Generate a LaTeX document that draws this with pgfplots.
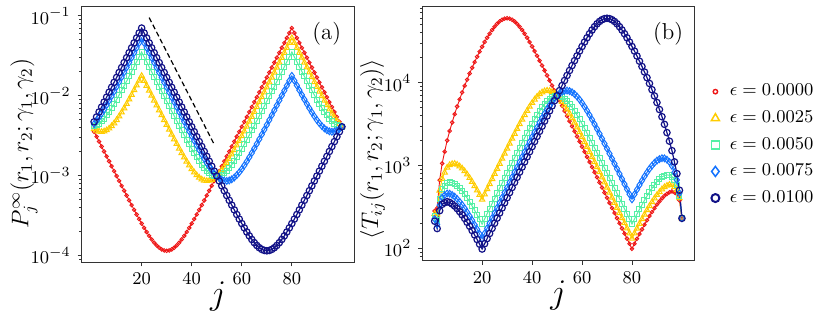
\documentclass[border=0pt]{standalone}
\usepackage{pgfplots}
\usepackage{pgfplotstable}
\pgfplotsset{compat=1.18}

\definecolor{cR}{RGB}{238,22,22}
\definecolor{cY}{RGB}{255,204,0}
\definecolor{cG}{RGB}{85,240,165}
\definecolor{cL}{RGB}{20,115,255}
\definecolor{cB}{RGB}{18,18,135}

% panel (a): stationary distribution, one column per epsilon
\pgfplotstableread{
j R Y G L B
1 3.543e-3 3.834e-3 4.125e-3 4.416e-3 4.707e-3
2 3.074e-3 3.662e-3 4.250e-3 4.838e-3 5.426e-3
3 2.667e-3 3.564e-3 4.461e-3 5.357e-3 6.254e-3
4 2.314e-3 3.538e-3 4.761e-3 5.985e-3 7.208e-3
5 2.008e-3 3.583e-3 5.159e-3 6.734e-3 8.309e-3
6 1.743e-3 3.702e-3 5.660e-3 7.619e-3 9.577e-3
7 1.512e-3 3.894e-3 6.276e-3 8.658e-3 1.104e-2
8 1.313e-3 4.165e-3 7.017e-3 9.868e-3 1.272e-2
9 1.140e-3 4.522e-3 7.905e-3 1.129e-2 1.467e-2
10 9.893e-4 4.970e-3 8.950e-3 1.293e-2 1.691e-2
11 8.592e-4 5.517e-3 1.018e-2 1.483e-2 1.949e-2
12 7.465e-4 6.177e-3 1.161e-2 1.704e-2 2.247e-2
13 6.489e-4 6.962e-3 1.327e-2 1.959e-2 2.590e-2
14 5.644e-4 7.886e-3 1.521e-2 2.253e-2 2.985e-2
15 4.913e-4 8.971e-3 1.745e-2 2.593e-2 3.441e-2
16 4.282e-4 1.024e-2 2.004e-2 2.985e-2 3.966e-2
17 3.737e-4 1.171e-2 2.305e-2 3.438e-2 4.572e-2
18 3.268e-4 1.342e-2 2.651e-2 3.961e-2 5.270e-2
19 2.865e-4 1.540e-2 3.052e-2 4.563e-2 6.075e-2
20 2.520e-4 1.769e-2 3.514e-2 5.258e-2 7.002e-2
21 2.226e-4 1.535e-2 3.049e-2 4.562e-2 6.075e-2
22 1.977e-4 1.332e-2 2.645e-2 3.957e-2 5.270e-2
23 1.767e-4 1.156e-2 2.295e-2 3.433e-2 4.572e-2
24 1.594e-4 1.004e-2 1.991e-2 2.979e-2 3.966e-2
25 1.453e-4 8.712e-3 1.728e-2 2.584e-2 3.441e-2
26 1.341e-4 7.563e-3 1.499e-2 2.242e-2 2.985e-2
27 1.256e-4 6.569e-3 1.301e-2 1.946e-2 2.590e-2
28 1.197e-4 5.707e-3 1.130e-2 1.688e-2 2.247e-2
29 1.162e-4 4.960e-3 9.803e-3 1.465e-2 1.949e-2
30 1.150e-4 4.314e-3 8.513e-3 1.271e-2 1.691e-2
31 1.162e-4 3.755e-3 7.393e-3 1.103e-2 1.467e-2
32 1.197e-4 3.270e-3 6.420e-3 9.570e-3 1.272e-2
33 1.256e-4 2.854e-3 5.583e-3 8.311e-3 1.104e-2
34 1.341e-4 2.495e-3 4.856e-3 7.216e-3 9.577e-3
35 1.453e-4 2.186e-3 4.227e-3 6.268e-3 8.309e-3
36 1.594e-4 1.922e-3 3.684e-3 5.446e-3 7.208e-3
37 1.767e-4 1.696e-3 3.215e-3 4.735e-3 6.254e-3
38 1.977e-4 1.505e-3 2.812e-3 4.119e-3 5.426e-3
39 2.226e-4 1.344e-3 2.465e-3 3.586e-3 4.707e-3
40 2.520e-4 1.210e-3 2.168e-3 3.126e-3 4.084e-3
41 2.865e-4 1.101e-3 1.915e-3 2.729e-3 3.543e-3
42 3.268e-4 1.014e-3 1.700e-3 2.387e-3 3.074e-3
43 3.737e-4 9.470e-4 1.520e-3 2.094e-3 2.667e-3
44 4.282e-4 9.000e-4 1.371e-3 1.843e-3 2.314e-3
45 4.913e-4 8.710e-4 1.250e-3 1.629e-3 2.008e-3
46 5.644e-4 8.590e-4 1.154e-3 1.448e-3 1.743e-3
47 6.489e-4 8.650e-4 1.080e-3 1.296e-3 1.512e-3
48 7.465e-4 8.880e-4 1.030e-3 1.171e-3 1.313e-3
49 8.592e-4 9.290e-4 9.990e-4 1.069e-3 1.140e-3
50 9.893e-4 9.893e-4 9.893e-4 9.893e-4 9.893e-4
51 1.140e-3 1.069e-3 9.990e-4 9.290e-4 8.592e-4
52 1.313e-3 1.171e-3 1.030e-3 8.880e-4 7.465e-4
53 1.512e-3 1.296e-3 1.080e-3 8.650e-4 6.489e-4
54 1.743e-3 1.448e-3 1.154e-3 8.590e-4 5.644e-4
55 2.008e-3 1.629e-3 1.250e-3 8.710e-4 4.913e-4
56 2.314e-3 1.843e-3 1.371e-3 9.000e-4 4.282e-4
57 2.667e-3 2.094e-3 1.520e-3 9.470e-4 3.737e-4
58 3.074e-3 2.387e-3 1.700e-3 1.014e-3 3.268e-4
59 3.543e-3 2.729e-3 1.915e-3 1.101e-3 2.865e-4
60 4.084e-3 3.126e-3 2.168e-3 1.210e-3 2.520e-4
61 4.707e-3 3.586e-3 2.465e-3 1.344e-3 2.226e-4
62 5.426e-3 4.119e-3 2.812e-3 1.505e-3 1.977e-4
63 6.254e-3 4.735e-3 3.215e-3 1.696e-3 1.767e-4
64 7.208e-3 5.446e-3 3.684e-3 1.922e-3 1.594e-4
65 8.309e-3 6.268e-3 4.227e-3 2.186e-3 1.453e-4
66 9.577e-3 7.216e-3 4.856e-3 2.495e-3 1.341e-4
67 1.104e-2 8.311e-3 5.583e-3 2.854e-3 1.256e-4
68 1.272e-2 9.570e-3 6.420e-3 3.270e-3 1.197e-4
69 1.467e-2 1.103e-2 7.393e-3 3.755e-3 1.162e-4
70 1.691e-2 1.271e-2 8.513e-3 4.314e-3 1.150e-4
71 1.949e-2 1.465e-2 9.803e-3 4.960e-3 1.162e-4
72 2.247e-2 1.688e-2 1.130e-2 5.707e-3 1.197e-4
73 2.590e-2 1.946e-2 1.301e-2 6.569e-3 1.256e-4
74 2.985e-2 2.242e-2 1.499e-2 7.563e-3 1.341e-4
75 3.441e-2 2.584e-2 1.728e-2 8.712e-3 1.453e-4
76 3.966e-2 2.979e-2 1.991e-2 1.004e-2 1.594e-4
77 4.572e-2 3.433e-2 2.295e-2 1.156e-2 1.767e-4
78 5.270e-2 3.957e-2 2.645e-2 1.332e-2 1.977e-4
79 6.075e-2 4.562e-2 3.049e-2 1.535e-2 2.226e-4
80 7.002e-2 5.258e-2 3.514e-2 1.769e-2 2.520e-4
81 6.075e-2 4.563e-2 3.052e-2 1.540e-2 2.865e-4
82 5.270e-2 3.961e-2 2.651e-2 1.342e-2 3.268e-4
83 4.572e-2 3.438e-2 2.305e-2 1.171e-2 3.737e-4
84 3.966e-2 2.985e-2 2.004e-2 1.024e-2 4.282e-4
85 3.441e-2 2.593e-2 1.745e-2 8.971e-3 4.913e-4
86 2.985e-2 2.253e-2 1.521e-2 7.886e-3 5.644e-4
87 2.590e-2 1.959e-2 1.327e-2 6.962e-3 6.489e-4
88 2.247e-2 1.704e-2 1.161e-2 6.177e-3 7.465e-4
89 1.949e-2 1.483e-2 1.018e-2 5.517e-3 8.592e-4
90 1.691e-2 1.293e-2 8.950e-3 4.970e-3 9.893e-4
91 1.467e-2 1.129e-2 7.905e-3 4.522e-3 1.140e-3
92 1.272e-2 9.868e-3 7.017e-3 4.165e-3 1.313e-3
93 1.104e-2 8.658e-3 6.276e-3 3.894e-3 1.512e-3
94 9.577e-3 7.619e-3 5.660e-3 3.702e-3 1.743e-3
95 8.309e-3 6.734e-3 5.159e-3 3.583e-3 2.008e-3
96 7.208e-3 5.985e-3 4.761e-3 3.538e-3 2.314e-3
97 6.254e-3 5.357e-3 4.461e-3 3.564e-3 2.667e-3
98 5.426e-3 4.838e-3 4.250e-3 3.662e-3 3.074e-3
99 4.707e-3 4.416e-3 4.125e-3 3.834e-3 3.543e-3
100 4.084e-3 4.084e-3 4.084e-3 4.084e-3 4.084e-3
}\tabP

% panel (b): mean first passage times
\pgfplotstableread{
j R Y G L B
1 282.2 260.8 242.4 226.4 212.4
2 305.8 256.7 221.2 194.3 173.2
3 667.4 499.4 399.0 332.3 284.6
4 1058.8 692.5 514.6 409.4 339.9
5 1469 823.3 571.8 438.1 355.0
6 2008 945.4 618.4 459.4 365.5
7 2612 1014 629.4 456.2 357.8
8 3313 1044 619.9 440.8 342.0
9 4168 1050 600.9 420.8 323.8
10 5155 1026 569.8 394.4 301.6
11 6285 978.8 530.7 364.1 277.1
12 7636 922.8 491.0 334.5 253.7
13 9169 854.6 448.2 303.8 229.7
14 10897 779.9 404.4 273.0 206.0
15 12925 707.8 363.9 244.9 184.5
16 15180 635.0 324.3 217.7 163.9
17 17715 565.3 287.2 192.5 144.8
18 20563 500.7 253.5 169.7 127.5
19 23735 441.5 222.8 149.0 111.9
20 27222 387.7 195.2 130.5 97.97
21 30997 449.4 226.3 151.3 113.6
22 34901 517.9 260.9 174.4 130.9
23 39049 596.7 300.7 201.0 150.9
24 43287 687.6 346.6 231.7 174.0
25 47488 792.0 399.4 267.0 200.5
26 51454 912.3 460.2 307.7 231.2
27 54936 1050.4 530.2 354.6 266.4
28 57644 1209.0 610.9 408.7 307.1
29 59380 1391.1 703.9 471.1 354.0
30 60000 1599.4 810.5 542.8 408.0
31 59380 1837.5 933.3 625.5 470.3
32 57644 2110 1074.8 721.0 542.5
33 54936 2417.7 1235.9 830.2 625.0
34 51454 2765.5 1420.9 956.2 720.5
35 47488 3156.4 1632.4 1100.8 830.4
36 43287 3590.0 1873.0 1267.0 957.3
37 39049 4068.4 2146.2 1457.2 1103.3
38 34901 4584.7 2453.8 1675.2 1271.6
39 30997 5133.9 2799.2 1924.1 1465.9
40 27381 5702.5 3182.7 2207.3 1689.5
41 24084 6267.0 3603.1 2528.4 1947.5
42 21114 6804.7 4058.8 2890.7 2244.6
43 18464 7286.2 4539.5 3295.1 2587.2
44 16114 7666.7 5032.8 3743.9 2981.8
45 14044 7921.9 5520.0 4235.7 3436.3
46 12225 8032.6 5979.2 4765.2 3958.7
47 10633 7976.9 6388.9 5324.1 4563.5
48 9243 7770.3 6699.0 5892.4 5255.1
49 8031 7427.3 6906.9 6454.6 6055.3
50 6974.6 6974.6 6974.6 6974.6 6974.6
51 6055.3 6454.6 6906.9 7427.3 8031
52 5255.1 5892.4 6699.0 7770.3 9243
53 4563.5 5324.1 6388.9 7976.9 10633
54 3958.7 4765.2 5979.2 8032.6 12225
55 3436.3 4235.7 5520.0 7921.9 14044
56 2981.8 3743.9 5032.8 7666.7 16114
57 2587.2 3295.1 4539.5 7286.2 18464
58 2244.6 2890.7 4058.8 6804.7 21114
59 1947.5 2528.4 3603.1 6267.0 24084
60 1689.5 2207.3 3182.7 5702.5 27381
61 1465.9 1924.1 2799.2 5133.9 30997
62 1271.6 1675.2 2453.8 4584.7 34901
63 1103.3 1457.2 2146.2 4068.4 39049
64 957.3 1267.0 1873.0 3590.0 43287
65 830.4 1100.8 1632.4 3156.4 47488
66 720.5 956.2 1420.9 2765.5 51454
67 625.0 830.2 1235.9 2417.7 54936
68 542.5 721.0 1074.8 2110 57644
69 470.3 625.5 933.3 1837.5 59380
70 408.0 542.8 810.5 1599.4 60000
71 354.0 471.1 703.9 1391.1 59380
72 307.1 408.7 610.9 1209.0 57644
73 266.4 354.6 530.2 1050.4 54936
74 231.2 307.7 460.2 912.3 51454
75 200.5 267.0 399.4 792.0 47488
76 174.0 231.7 346.6 687.6 43287
77 150.9 201.0 300.7 596.7 39049
78 130.9 174.4 260.9 517.9 34901
79 113.6 151.3 226.3 449.4 30997
80 98.54 131.2 196.4 390.0 27381
81 113.6 151.2 226.1 448.0 24084
82 130.2 173.2 258.7 511.2 20991
83 148.7 197.8 295.0 580.7 18196
84 169.4 225.1 335.3 656.5 15694
85 192.4 255.3 379.3 737.9 13474
86 217.8 288.5 427.4 824.2 11517
87 245.2 324.2 478.4 912.1 9786
88 273.7 360.9 529.8 995.6 8238
89 305.3 401.2 584.8 1078.5 6925
90 337.1 440.8 636.9 1146.9 5762
91 368.1 478.4 683.1 1194.2 4739
92 400.9 516.8 726.8 1224.5 3884
93 430.3 548.6 756.8 1219.8 3141
94 454.2 570.9 768.6 1175.0 2496
95 475.4 586.6 765.7 1102.4 1967
96 485.6 584.8 735.1 989.3 1512.5
97 471.7 550.7 661.3 827.7 1106.1
98 451.5 506.4 576.5 669.0 797.0
99 378.2 403.1 431.5 464.3 502.4
100 230.2 230.2 230.2 230.2 230.2
}\tabT

\begin{document}
\begin{tikzpicture}
\useasboundingbox (0,0) rectangle (415pt,-160pt);

\begin{axis}[
  scale only axis,
  at={(40.85pt,-3pt)}, anchor=north west,
  width=136.3pt, height=128.15pt,
  ymode=log,
  xmin=-3.95, xmax=104.95,
  ymin=8.26e-5, ymax=0.1321,
  xtick={20,40,60,80},
  tick pos=left,
  tick align=outside,
  major tick length=2pt,
  minor tick length=1.2pt,
  axis line style={black!80, line width=0.5pt},
  tick style={black!80, line width=0.4pt},
  tick label style={font=\fontsize{9.3}{10}\selectfont},
  xlabel={$j$},
  xlabel style={font=\fontsize{17}{19}\selectfont, at={(axis description cs:0.5,-0.135)}, anchor=center},
  ylabel={$P_j^{\infty}(r_1,r_2;\gamma_1,\gamma_2)$},
  ylabel style={font=\fontsize{11.5}{13}\selectfont, at={(axis description cs:-0.212,0.464)}, anchor=center},
]
\addplot[cR, line width=0.45pt, mark=o, mark size=0.9pt, mark options={solid}] table[x=j,y=R]{\tabP};
\addplot[cY, line width=0.5pt, mark=triangle, mark size=1.55pt, mark options={solid}] table[x=j,y=Y]{\tabP};
\addplot[cG, line width=0.5pt, mark=square, mark size=1.25pt, mark options={solid}] table[x=j,y=G]{\tabP};
\addplot[cL, line width=0.5pt, mark=diamond, mark size=1.7pt, mark options={solid}] table[x=j,y=L]{\tabP};
\addplot[cB, line width=0.6pt, mark=o, mark size=1.6pt, mark options={solid}] table[x=j,y=B]{\tabP};
\addplot[black, line width=0.6pt, dash pattern=on 2.5pt off 1.5pt] coordinates {(23,0.0946) (49,0.00245)};
\node[font=\fontsize{11.5}{12}\selectfont] at (rel axis cs:0.899,0.893) {(a)};
\end{axis}

\begin{axis}[
  scale only axis,
  at={(211.15pt,-3.35pt)}, anchor=north west,
  width=136pt, height=127pt,
  ymode=log,
  xmin=-3.95, xmax=104.95,
  ymin=70.8, ymax=82800,
  xtick={20,40,60,80},
  tick pos=left,
  tick align=outside,
  major tick length=2pt,
  minor tick length=1.2pt,
  axis line style={black!80, line width=0.5pt},
  tick style={black!80, line width=0.4pt},
  tick label style={font=\fontsize{9.3}{10}\selectfont},
  xlabel={$j$},
  xlabel style={font=\fontsize{17}{19}\selectfont, at={(axis description cs:0.5,-0.137)}, anchor=center},
  ylabel={$\langle T_{ij}(r_1,r_2;\gamma_1,\gamma_2)\rangle$},
  ylabel style={font=\fontsize{11.5}{13}\selectfont, at={(axis description cs:-0.183,0.44)}, anchor=center},
  legend style={at={(1.0393,0.71)}, anchor=north west, draw=none, fill=none,
    inner sep=0pt, outer sep=0pt, row sep=2pt,
    font=\fontsize{9}{10}\selectfont},
  legend cell align=left,
  legend image code/.code={\path (-5pt,0pt) (5pt,0pt); \draw[#1] plot coordinates {(0pt,0pt)};},
]
\addplot[cR, line width=0.45pt, mark=o, mark size=0.9pt, mark options={solid}, forget plot] table[x=j,y=R]{\tabT};
\addplot[cY, line width=0.5pt, mark=triangle, mark size=1.55pt, mark options={solid}, forget plot] table[x=j,y=Y]{\tabT};
\addplot[cG, line width=0.5pt, mark=square, mark size=1.25pt, mark options={solid}, forget plot] table[x=j,y=G]{\tabT};
\addplot[cL, line width=0.5pt, mark=diamond, mark size=1.7pt, mark options={solid}, forget plot] table[x=j,y=L]{\tabT};
\addplot[cB, line width=0.6pt, mark=o, mark size=1.6pt, mark options={solid}, forget plot] table[x=j,y=B]{\tabT};
\addlegendimage{only marks, cR, mark=o, mark size=1.1pt, mark options={line width=0.7pt}}
\addlegendentry{$\epsilon = 0.0000$}
\addlegendimage{only marks, cY, mark=triangle, mark size=2.3pt, mark options={line width=0.75pt}}
\addlegendentry{$\epsilon = 0.0025$}
\addlegendimage{only marks, cG, mark=square, mark size=2pt, mark options={line width=0.75pt}}
\addlegendentry{$\epsilon = 0.0050$}
\addlegendimage{only marks, cL, mark=diamond, mark size=2.5pt, mark options={line width=0.75pt}}
\addlegendentry{$\epsilon = 0.0075$}
\addlegendimage{only marks, cB, mark=o, mark size=2pt, mark options={line width=1pt}}
\addlegendentry{$\epsilon = 0.0100$}
\node[font=\fontsize{11.5}{12}\selectfont] at (rel axis cs:0.904,0.895) {(b)};
\end{axis}
\end{tikzpicture}
\end{document}
